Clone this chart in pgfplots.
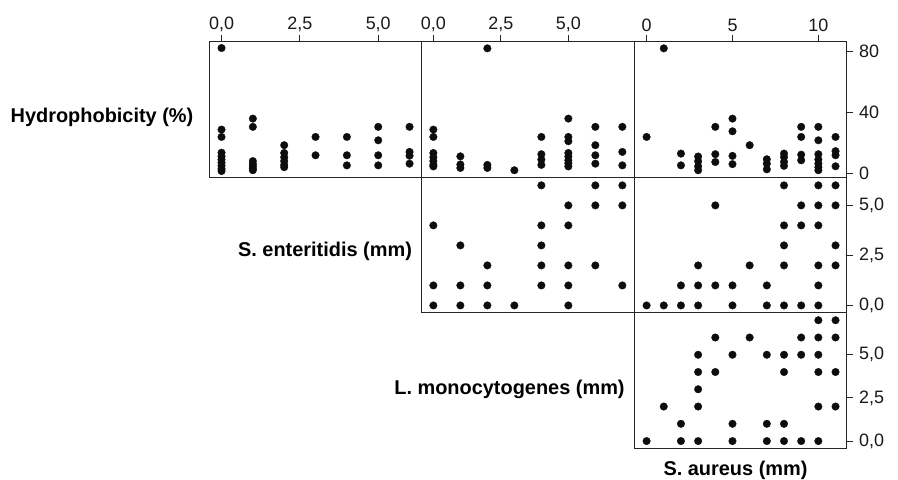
\documentclass[border=0pt]{standalone}
\usepackage{pgfplots}
\pgfplotsset{compat=1.18}
\usepackage{fontspec}
\setmainfont{Liberation Sans}
\pgfplotsset{
  panel/.style={
    scale only axis, width=212.47bp, height=135.67bp,
    axis line style={line width=0.9bp, black!85},
    every tick/.style={line width=0.9bp, black!85},
    major tick length=6bp, tick align=outside,
    tick label style={font=\fontsize{18}{18}\selectfont, text=black!90},
    clip=false,
    xtick=\empty, ytick=\empty,
  },
  dots/.style={only marks, mark=*, mark size=3.8bp, color=black,
    mark options={fill=black!95, draw=black!95, line width=0.3pt}},
  topx/.style={xtick pos=upper, xticklabel pos=upper},
  righty/.style={ytick pos=right, yticklabel pos=right,
    yticklabel style={xshift=3bp}},
}
\newcommand{\ttl}{\bfseries\fontsize{20}{21}\selectfont}
\begin{document}
\begin{tikzpicture}
\path[use as bounding box] (0,0) rectangle (898bp,-480bp);
% Row 1, col 1: S. enteritidis vs hydrophobicity
\begin{axis}[panel, topx, at={(209.3bp,-41.3bp)}, anchor=north west,
  xmin=-0.39, xmax=6.39, ymin=-2.4, ymax=86.4,
  xtick={0,2.5,5}, xticklabels={0{,}0,2{,}5,5{,}0}]
\addplot[dots] coordinates {
(0,82) (0,28.6) (0,23.8) (0,13.5) (0,11) (0,9) (0,7) (0,5) (0,3) (0,1.5)
(1,35.8) (1,30.4) (1,8) (1,6) (1,4.5) (1,3) (1,2)
(2,18.4) (2,13.3) (2,10.5) (2,8) (2,5.5) (2,4)
(3,23.8) (3,11.8)
(4,23.8) (4,11.8) (4,5.2)
(5,30.4) (5,21.6) (5,11.8) (5,5.2)
(6,30.4) (6,14) (6,11.5) (6,6.3)
};
\end{axis}
% Row 1, col 2: L. monocytogenes vs hydrophobicity
\begin{axis}[panel, topx, at={(421.76bp,-41.3bp)}, anchor=north west,
  xmin=-0.43, xmax=7.44, ymin=-2.4, ymax=86.4,
  xtick={0,2.5,5}, xticklabels={0{,}0,2{,}5,5{,}0}]
\addplot[dots] coordinates {
(0,28.6) (0,23.8) (0,13.3) (0,10.5) (0,8) (0,5.5) (0,4.5)
(1,11.1) (1,5.8) (1,3.5)
(2,81.8) (2,5.5) (2,3.5)
(3,2)
(4,23.8) (4,12.5) (4,9) (4,5.5)
(5,35.8) (5,23.8) (5,21) (5,13.3) (5,11) (5,8.5) (5,6.5) (5,4.5)
(6,30.4) (6,18.4) (6,11.8) (6,6.3)
(7,30.4) (7,14) (7,5.2)
};
\end{axis}
% Row 1, col 3: S. aureus vs hydrophobicity
\begin{axis}[panel, topx, righty, at={(634.23bp,-41.3bp)}, anchor=north west,
  xmin=-0.72, xmax=11.65, ymin=-2.4, ymax=86.4,
  xtick={0,5,10}, xticklabels={0,5,10},
  ytick={0,40,80}, yticklabels={0,40,80}]
\addplot[dots] coordinates {
(0,23.8) (1,81.8)
(2,12.9) (2,5.2)
(3,11) (3,7.9) (3,4.6) (3,2)
(4,30.4) (4,12.5) (4,7.4)
(5,35.8) (5,27.5) (5,11.4) (5,6)
(6,18.4)
(7,9.2) (7,6.3) (7,2.6)
(8,12.9) (8,10.6) (8,7.5) (8,4.9)
(9,30.4) (9,23.8) (9,12.2) (9,8.5)
(10,30.4) (10,21.6) (10,12.5) (10,9) (10,6.3) (10,4) (10,2)
(11,23.8) (11,14.5) (11,11.8) (11,4.6)
};
\end{axis}
% Row 2, col 2: L. monocytogenes vs S. enteritidis
\begin{axis}[panel, at={(421.76bp,-176.97bp)}, anchor=north west,
  xmin=-0.43, xmax=7.44, ymin=-0.36, ymax=6.42]
\addplot[dots] coordinates {
(4,6) (6,6) (7,6)
(5,5) (6,5) (7,5)
(0,4) (4,4) (5,4)
(1,3) (4,3)
(2,2) (4,2) (5,2) (6,2)
(0,1) (1,1) (2,1) (4,1) (5,1) (7,1)
(0,0) (1,0) (2,0) (3,0) (5,0)
};
\end{axis}
% Row 2, col 3: S. aureus vs S. enteritidis
\begin{axis}[panel, righty, at={(634.23bp,-176.97bp)}, anchor=north west,
  xmin=-0.72, xmax=11.65, ymin=-0.36, ymax=6.42,
  ytick={0,2.5,5}, yticklabels={0{,}0,2{,}5,5{,}0}]
\addplot[dots] coordinates {
(8,6) (10,6) (11,6)
(4,5) (9,5) (10,5) (11,5)
(8,4) (9,4) (10,4)
(8,3) (11,3)
(3,2) (6,2) (8,2) (10,2) (11,2)
(2,1) (3,1) (4,1) (5,1) (7,1) (10,1)
(0,0) (1,0) (2,0) (3,0) (5,0) (7,0) (8,0) (9,0) (10,0)
};
\end{axis}
% Row 3, col 3: S. aureus vs L. monocytogenes
\begin{axis}[panel, righty, at={(634.23bp,-312.64bp)}, anchor=north west,
  xmin=-0.72, xmax=11.65, ymin=-0.42, ymax=7.44,
  ytick={0,2.5,5}, yticklabels={0{,}0,2{,}5,5{,}0}]
\addplot[dots] coordinates {
(10,7) (11,7)
(4,6) (6,6) (9,6) (10,6) (11,6)
(3,5) (5,5) (7,5) (8,5) (9,5) (10,5)
(3,4) (4,4) (8,4) (10,4) (11,4)
(3,3)
(1,2) (3,2) (10,2) (11,2)
(2,1) (5,1) (7,1) (8,1)
(0,0) (2,0) (3,0) (5,0) (7,0) (8,0) (9,0) (10,0)
};
\end{axis}
% Diagonal labels
\node[font=\ttl, anchor=center] at (102bp,-117bp) {Hydrophobicity (\%)};
\node[font=\ttl, anchor=center] at (325bp,-251bp) {S. enteritidis (mm)};
\node[font=\ttl, anchor=center] at (509.5bp,-389bp) {L. monocytogenes (mm)};
\node[font=\ttl, anchor=center] at (735.5bp,-470bp) {S. aureus (mm)};
\end{tikzpicture}
\end{document}
